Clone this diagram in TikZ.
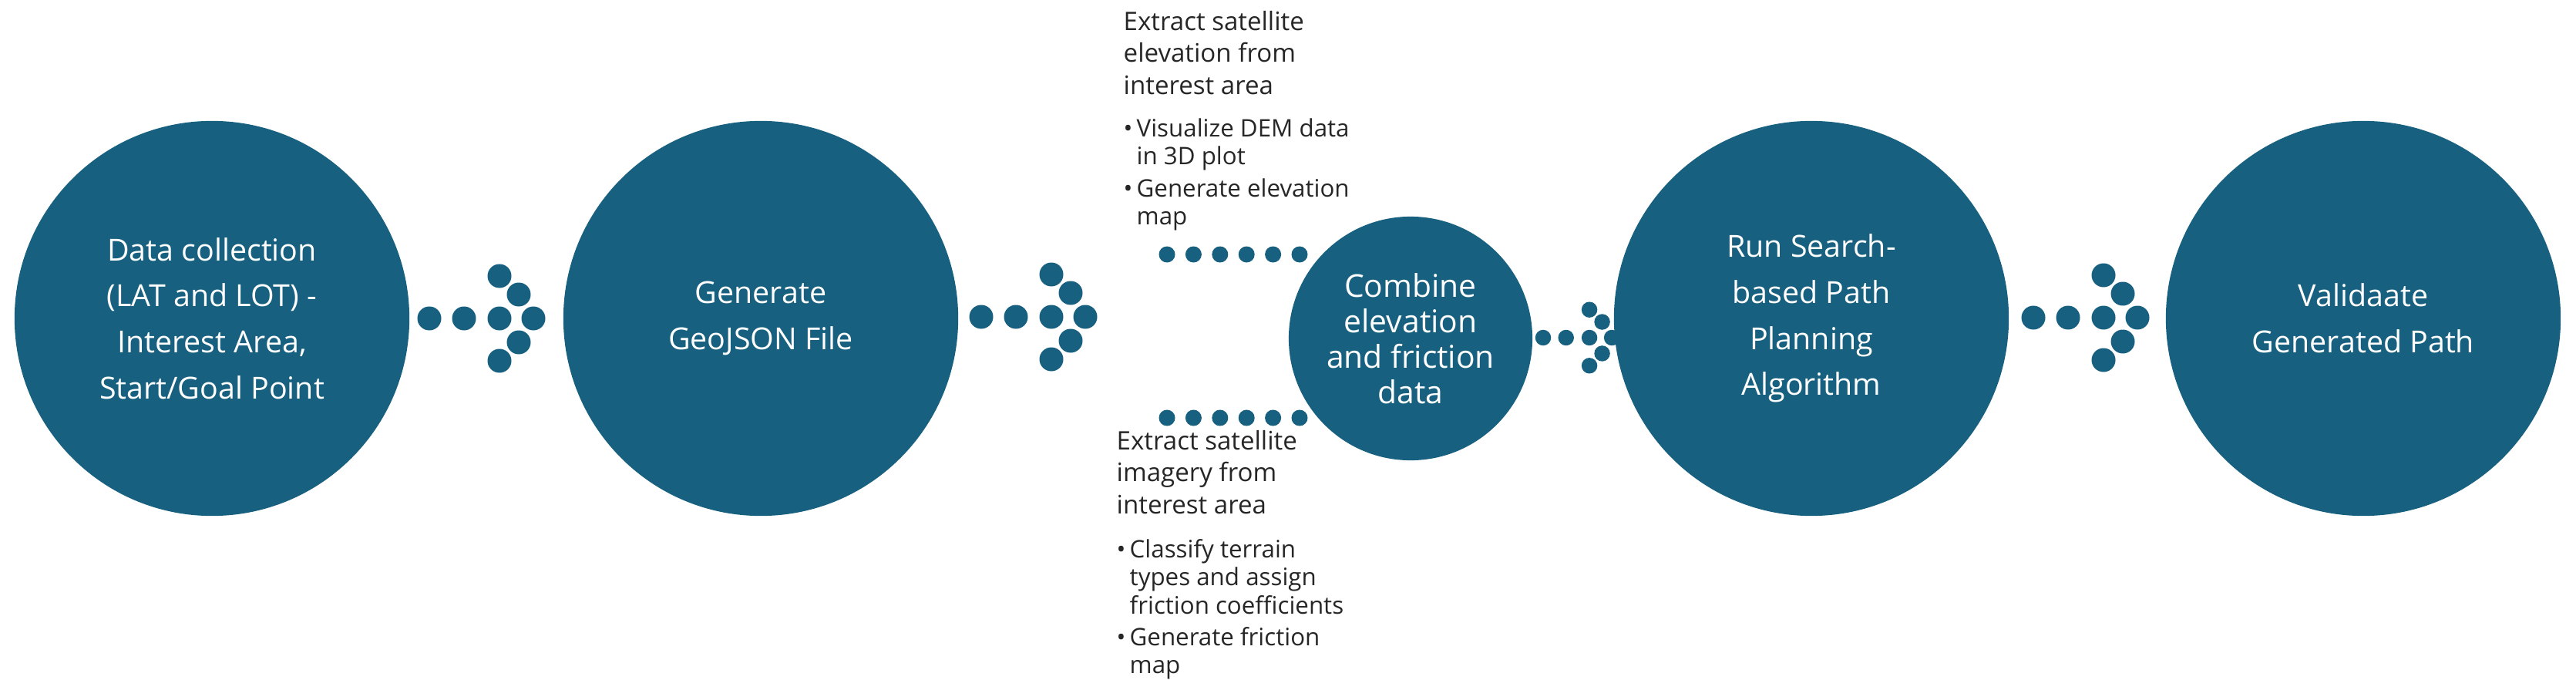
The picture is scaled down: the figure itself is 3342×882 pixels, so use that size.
\documentclass[tikz,border=0pt]{standalone}
\usepackage{fontspec}
\setmainfont{Open Sans}
\definecolor{teal}{HTML}{17607F}
\newcommand\dotarrow[3]{% x of tail, y, scale
  \begin{scope}[shift={(#1,#2)},scale=#3]
  \foreach \p in {(0,0),(45,0),(91,0),(135,0),(116,-31),(116,31),(91,-55),(91,55)}
    \fill[teal] \p circle (15.5);
  \end{scope}}
\begin{document}
\begin{tikzpicture}[x=0.01cm,y=-0.01cm,
  big/.style={circle,fill=teal,text=white,minimum size=5.12cm,inner sep=0pt,align=center,
    font=\fontsize{11.2}{17}\selectfont},
  side/.style={anchor=north west,inner sep=0pt,align=left,text=black!85,
    font=\fontsize{9.4}{11.7}\selectfont},
  dotc/.style={fill=teal}]
\useasboundingbox (0,0) rectangle (3342,882);
\node[big] (a) at (275,413) {Data collection\\(LAT and LOT) -\\Interest Area,\\Start/Goal Point};
\node[big] (b) at (987,413) {Generate\\GeoJSON File};
\node[big,minimum size=3.16cm,font=\fontsize{11.6}{13.1}\selectfont] (c) at (1830,439) {Combine\\elevation\\and friction\\data};
\node[big] (d) at (2350,413) {Run Search-\\based Path\\Planning\\Algorithm};
\node[big] (e) at (3066,413) {Validaate\\Generated Path};
\dotarrow{557}{413}{1}
\dotarrow{1273}{411}{1}
\dotarrow{2638}{412}{1}
\begin{scope}[shift={(2002,438)},scale=0.66]
  \foreach \p in {(0,0),(45,0),(91,0),(135,0),(116,-31),(116,31),(91,-55),(91,55)}
    \fill[teal] \p circle (15.5);
\end{scope}
\foreach \i in {0,...,5} {
  \fill[dotc] (1514+34.4*\i,330) circle (10.5);
  \fill[dotc] (1514+34.4*\i,542) circle (10.5);
}
\node[side] (t1) at (1457,14) {Extract satellite\\elevation from\\interest area};
\node[side,font=\fontsize{8.9}{10.3}\selectfont] (t2) at (1457,153) {\textbullet\,Visualize DEM data\\\phantom{\textbullet\,}in 3D plot\\[1.5pt]\textbullet\,Generate elevation\\\phantom{\textbullet\,}map};
\node[side] (t3) at (1448,558) {Extract satellite\\imagery from\\interest area};
\node[side,font=\fontsize{8.9}{10.3}\selectfont] (t4) at (1448,699) {\textbullet\,Classify terrain\\\phantom{\textbullet\,}types and assign\\\phantom{\textbullet\,}friction coefficients\\[1.5pt]\textbullet\,Generate friction\\\phantom{\textbullet\,}map};
\end{tikzpicture}
\end{document}
